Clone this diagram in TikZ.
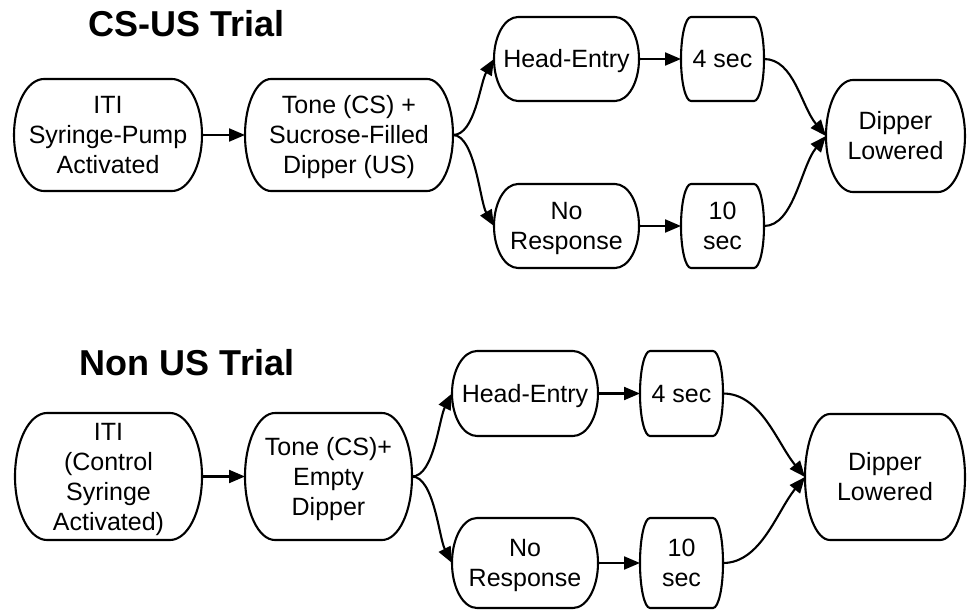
\documentclass[tikz,border=0pt]{standalone}
\usepackage{fontspec}
\setmainfont{Liberation Sans}
\usetikzlibrary{arrows.meta,calc}
\tikzset{
  lbl/.style={inner sep=0pt, outer sep=0pt, align=center, font=\fontsize{25}{30}\selectfont},
  shapeline/.style={line width=2.1pt, line join=round},
  conn/.style={line width=2.1pt, -{Triangle[length=16pt,width=13pt]}},
  ttl/.style={font=\bfseries\fontsize{36}{43}\selectfont, inner sep=0pt, anchor=base},
}
\newcommand\lst{\rule[-6.3pt]{0pt}{30pt}}
\newcommand\termbox[7]{%
  \node[lbl, minimum width=#4pt, minimum height=#5pt] (#1) at (#2,-#3) {\lst#7\lst};
  \draw[shapeline] ($(#1.north west)+(#6,0)$) -- ($(#1.north east)+(-#6,0)$)
    arc[start angle=90, end angle=-90, x radius=#6, y radius=#5/2]
    -- ($(#1.south west)+(#6,0)$)
    arc[start angle=270, end angle=90, x radius=#6, y radius=#5/2] -- cycle;
}
\begin{document}
\begin{tikzpicture}[x=1pt, y=1pt]
\fill[white] (0,0) rectangle (967,-610);
\useasboundingbox (0,0) rectangle (967,-610);

% titles
\node[ttl] (t1) at (186.5,-37) {CS-US Trial};
\node[ttl] (t2) at (187,-375) {Non US Trial};

% CS-US trial
\termbox{iti1}{108}{135}{188}{112}{30}{ITI\\Syringe-Pump\\Activated}
\termbox{tone1}{349}{135}{208}{112}{26}{Tone (CS) +\\Sucrose-Filled\\Dipper (US)}
\termbox{he1}{566.5}{59}{145}{84}{24}{Head-Entry}
\termbox{sa1}{722.5}{59}{83}{84}{10}{4 sec}
\termbox{nr1}{566.5}{226}{145}{84}{24}{No\\Response}
\termbox{sb1}{722.5}{226}{83}{84}{10}{10\\sec}
\termbox{dl1}{895.5}{136}{139}{112}{27}{Dipper\\Lowered}

\draw[conn] (iti1.east) -- (tone1.west);
\draw[conn] (tone1.east) .. controls +(22,0) and +(-14,-24) .. (he1.west);
\draw[conn] (tone1.east) .. controls +(22,0) and +(-14,24) .. (nr1.west);
\draw[conn] (he1.east) -- (sa1.west);
\draw[conn] (nr1.east) -- (sb1.west);
\draw[conn] (sa1.east) .. controls +(30,0) and +(-25,30) .. (dl1.west);
\draw[conn] (sb1.east) .. controls +(30,0) and +(-25,-30) .. (dl1.west);

% Non US trial
\termbox{iti2}{108.5}{476.5}{187}{127}{32}{ITI\\(Control\\Syringe\\Activated)}
\termbox{tone2}{328.5}{476.5}{167}{127}{30}{Tone (CS)+\\Empty\\Dipper}
\termbox{he2}{525}{393.5}{146}{85}{25}{Head-Entry}
\termbox{sa2}{681.5}{393.5}{83}{85}{10}{4 sec}
\termbox{nr2}{525}{563}{146}{90}{25}{No\\Response}
\termbox{sb2}{681.5}{563}{83}{90}{10}{10\\sec}
\termbox{dl2}{885}{477}{160}{126}{25}{Dipper\\Lowered}

\draw[conn] (iti2.east) -- (tone2.west);
\draw[conn] (tone2.east) .. controls +(22,0) and +(-13,-25) .. (he2.west);
\draw[conn] (tone2.east) .. controls +(22,0) and +(-13,25) .. (nr2.west);
\draw[conn] (he2.east) -- (sa2.west);
\draw[conn] (nr2.east) -- (sb2.west);
\draw[conn] (sa2.east) .. controls +(38,0) and +(-28,34) .. (dl2.west);
\draw[conn] (sb2.east) .. controls +(38,0) and +(-28,-34) .. (dl2.west);
\end{tikzpicture}
\end{document}
